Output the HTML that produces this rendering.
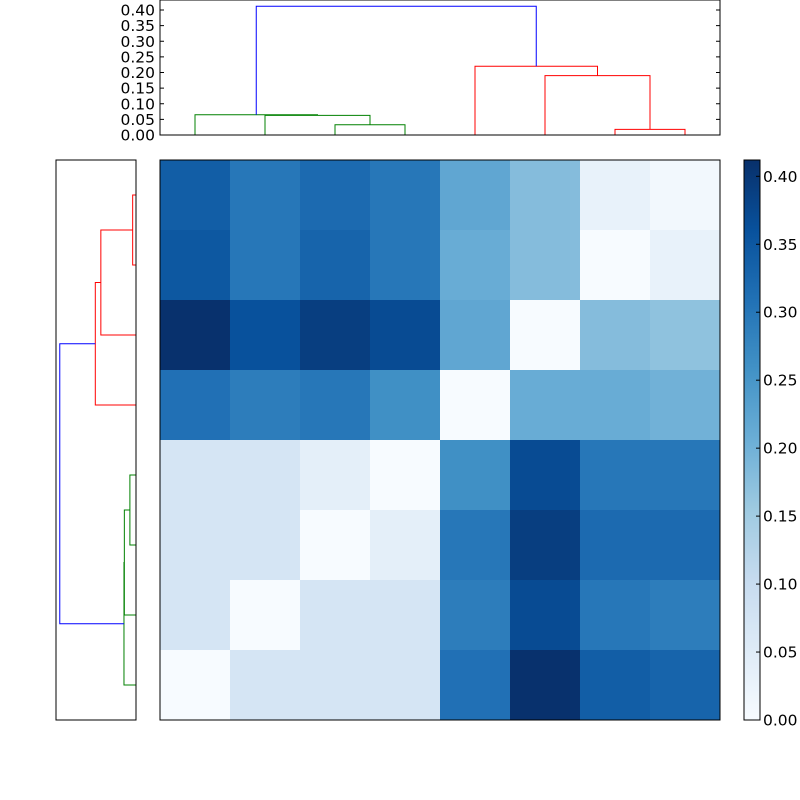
<!DOCTYPE html>
<html><head><meta charset="utf-8"><style>body{margin:0;background:#fff}svg{display:block;font-family:"DejaVu Sans","Liberation Sans",sans-serif}</style></head>
<body>
<svg id="s" width="800" height="800"></svg>
<script>
const matrix = [
 [0.34,0.30,0.32,0.30,0.22,0.18,0.03,0.01],
 [0.35,0.30,0.33,0.30,0.21,0.18,0.00,0.03],
 [0.41,0.36,0.39,0.37,0.22,0.00,0.18,0.17],
 [0.31,0.29,0.30,0.26,0.00,0.21,0.21,0.20],
 [0.07,0.07,0.04,0.00,0.26,0.37,0.30,0.30],
 [0.07,0.07,0.00,0.04,0.30,0.39,0.32,0.32],
 [0.07,0.00,0.07,0.07,0.29,0.37,0.30,0.29],
 [0.00,0.07,0.07,0.07,0.31,0.41,0.34,0.33]
];
// dendrogram links: [leftPos, rightPos, leftChildHeight, rightChildHeight, height, color]; positions in leaf units (0..7)
const topLinks = [
 [2,3,0,0,0.033,'green'],
 [1,2.5,0,0.033,0.063,'green'],
 [0,1.75,0,0.063,0.065,'green'],
 [6,7,0,0,0.018,'red'],
 [5,6.5,0,0.018,0.19,'red'],
 [4,5.75,0,0.19,0.22,'red'],
 [0.875,4.875,0.065,0.22,0.412,'blue']
];
const leftLinks = [
 [0,1,0,0,0.018,'red'],
 [0.5,2,0.018,0,0.19,'red'],
 [1.25,3,0.19,0,0.22,'red'],
 [4,5,0,0,0.033,'green'],
 [4.5,6,0.033,0,0.063,'green'],
 [5.25,7,0.063,0,0.065,'green'],
 [2.125,6.125,0.22,0.065,0.412,'blue']
];
const cbTicks = [0,0.05,0.10,0.15,0.20,0.25,0.30,0.35,0.40];
const vmax = 0.412;

const S=document.getElementById('s'),NS='http://www.w3.org/2000/svg';
function mk(t,a,p){const e=document.createElementNS(NS,t);for(const k in a)e.setAttribute(k,a[k]);(p||S).appendChild(e);return e;}
const stops=['#f7fbff','#deebf7','#c6dbef','#9ecae1','#6baed6','#4292c6','#2171b5','#08519c','#08306b'];
function hx(c){return [1,3,5].map(i=>parseInt(c.substr(i,2),16));}
function cmap(v){let t=Math.max(0,Math.min(1,v/vmax))*8;let i=Math.min(7,Math.floor(t)),f=t-i;const a=hx(stops[i]),b=hx(stops[i+1]);return 'rgb('+a.map((x,j)=>Math.round(x+(b[j]-x)*f)).join(',')+')';}
// heatmap
const HX=160,HY=160,C=70;
const hm=mk('g',{});


matrix.forEach((row,r)=>row.forEach((v,c)=>{const e=mk('rect',{x:HX+c*C,y:HY+r*C,width:C+0.5,height:C+0.5,fill:cmap(v)},hm);

}));
const hb=mk('rect',{x:160,y:160,width:560,height:560,fill:'none',stroke:'#000'});


// top dendrogram
const ty=v=>135-v*312.5, tx=p=>195+p*70;
const tg=mk('g',{fill:'none','stroke-width':1});


topLinks.forEach(l=>{const e=mk('polyline',{points:`${tx(l[0])},${ty(l[2])} ${tx(l[0])},${ty(l[4])} ${tx(l[1])},${ty(l[4])} ${tx(l[1])},${ty(l[3])}`,stroke:l[5]},tg);

});
const tf=mk('rect',{x:160,y:0,width:560,height:135,fill:'none',stroke:'#000'});


for(let i=0;i<=8;i++){const v=i*0.05,y=ty(v);
mk('line',{x1:160,x2:164,y1:y,y2:y,stroke:'#000'});mk('line',{x1:716,x2:720,y1:y,y2:y,stroke:'#000'});
const t=mk('text',{x:155,y:y+5.5,'text-anchor':'end','font-size':15.5});t.textContent=v.toFixed(2);

}
// left dendrogram
const lx=v=>136-v*185, ly=p=>195+p*70;
const lg=mk('g',{fill:'none'});


leftLinks.forEach(l=>{const e=mk('polyline',{points:`${lx(l[2])},${ly(l[0])} ${lx(l[4])},${ly(l[0])} ${lx(l[4])},${ly(l[1])} ${lx(l[3])},${ly(l[1])}`,stroke:l[5]},lg);

});
const lf=mk('rect',{x:56,y:160,width:80,height:560,fill:'none',stroke:'#000'});


// colorbar
const defs=mk('defs',{});const gr=mk('linearGradient',{id:'cb',x1:0,y1:1,x2:0,y2:0},defs);
stops.forEach((c,i)=>mk('stop',{offset:i/8,'stop-color':c},gr));
const cb=mk('rect',{x:744,y:160,width:16,height:560,fill:'url(#cb)',stroke:'#000'});


const cy=v=>720-v/vmax*560;
cbTicks.forEach(v=>{const y=cy(v);mk('line',{x1:756,x2:760,y1:y,y2:y,stroke:'#000'});
const t=mk('text',{x:763,y:y+5.5,'font-size':15.5});t.textContent=v.toFixed(2);

});
</script>
</body></html>
